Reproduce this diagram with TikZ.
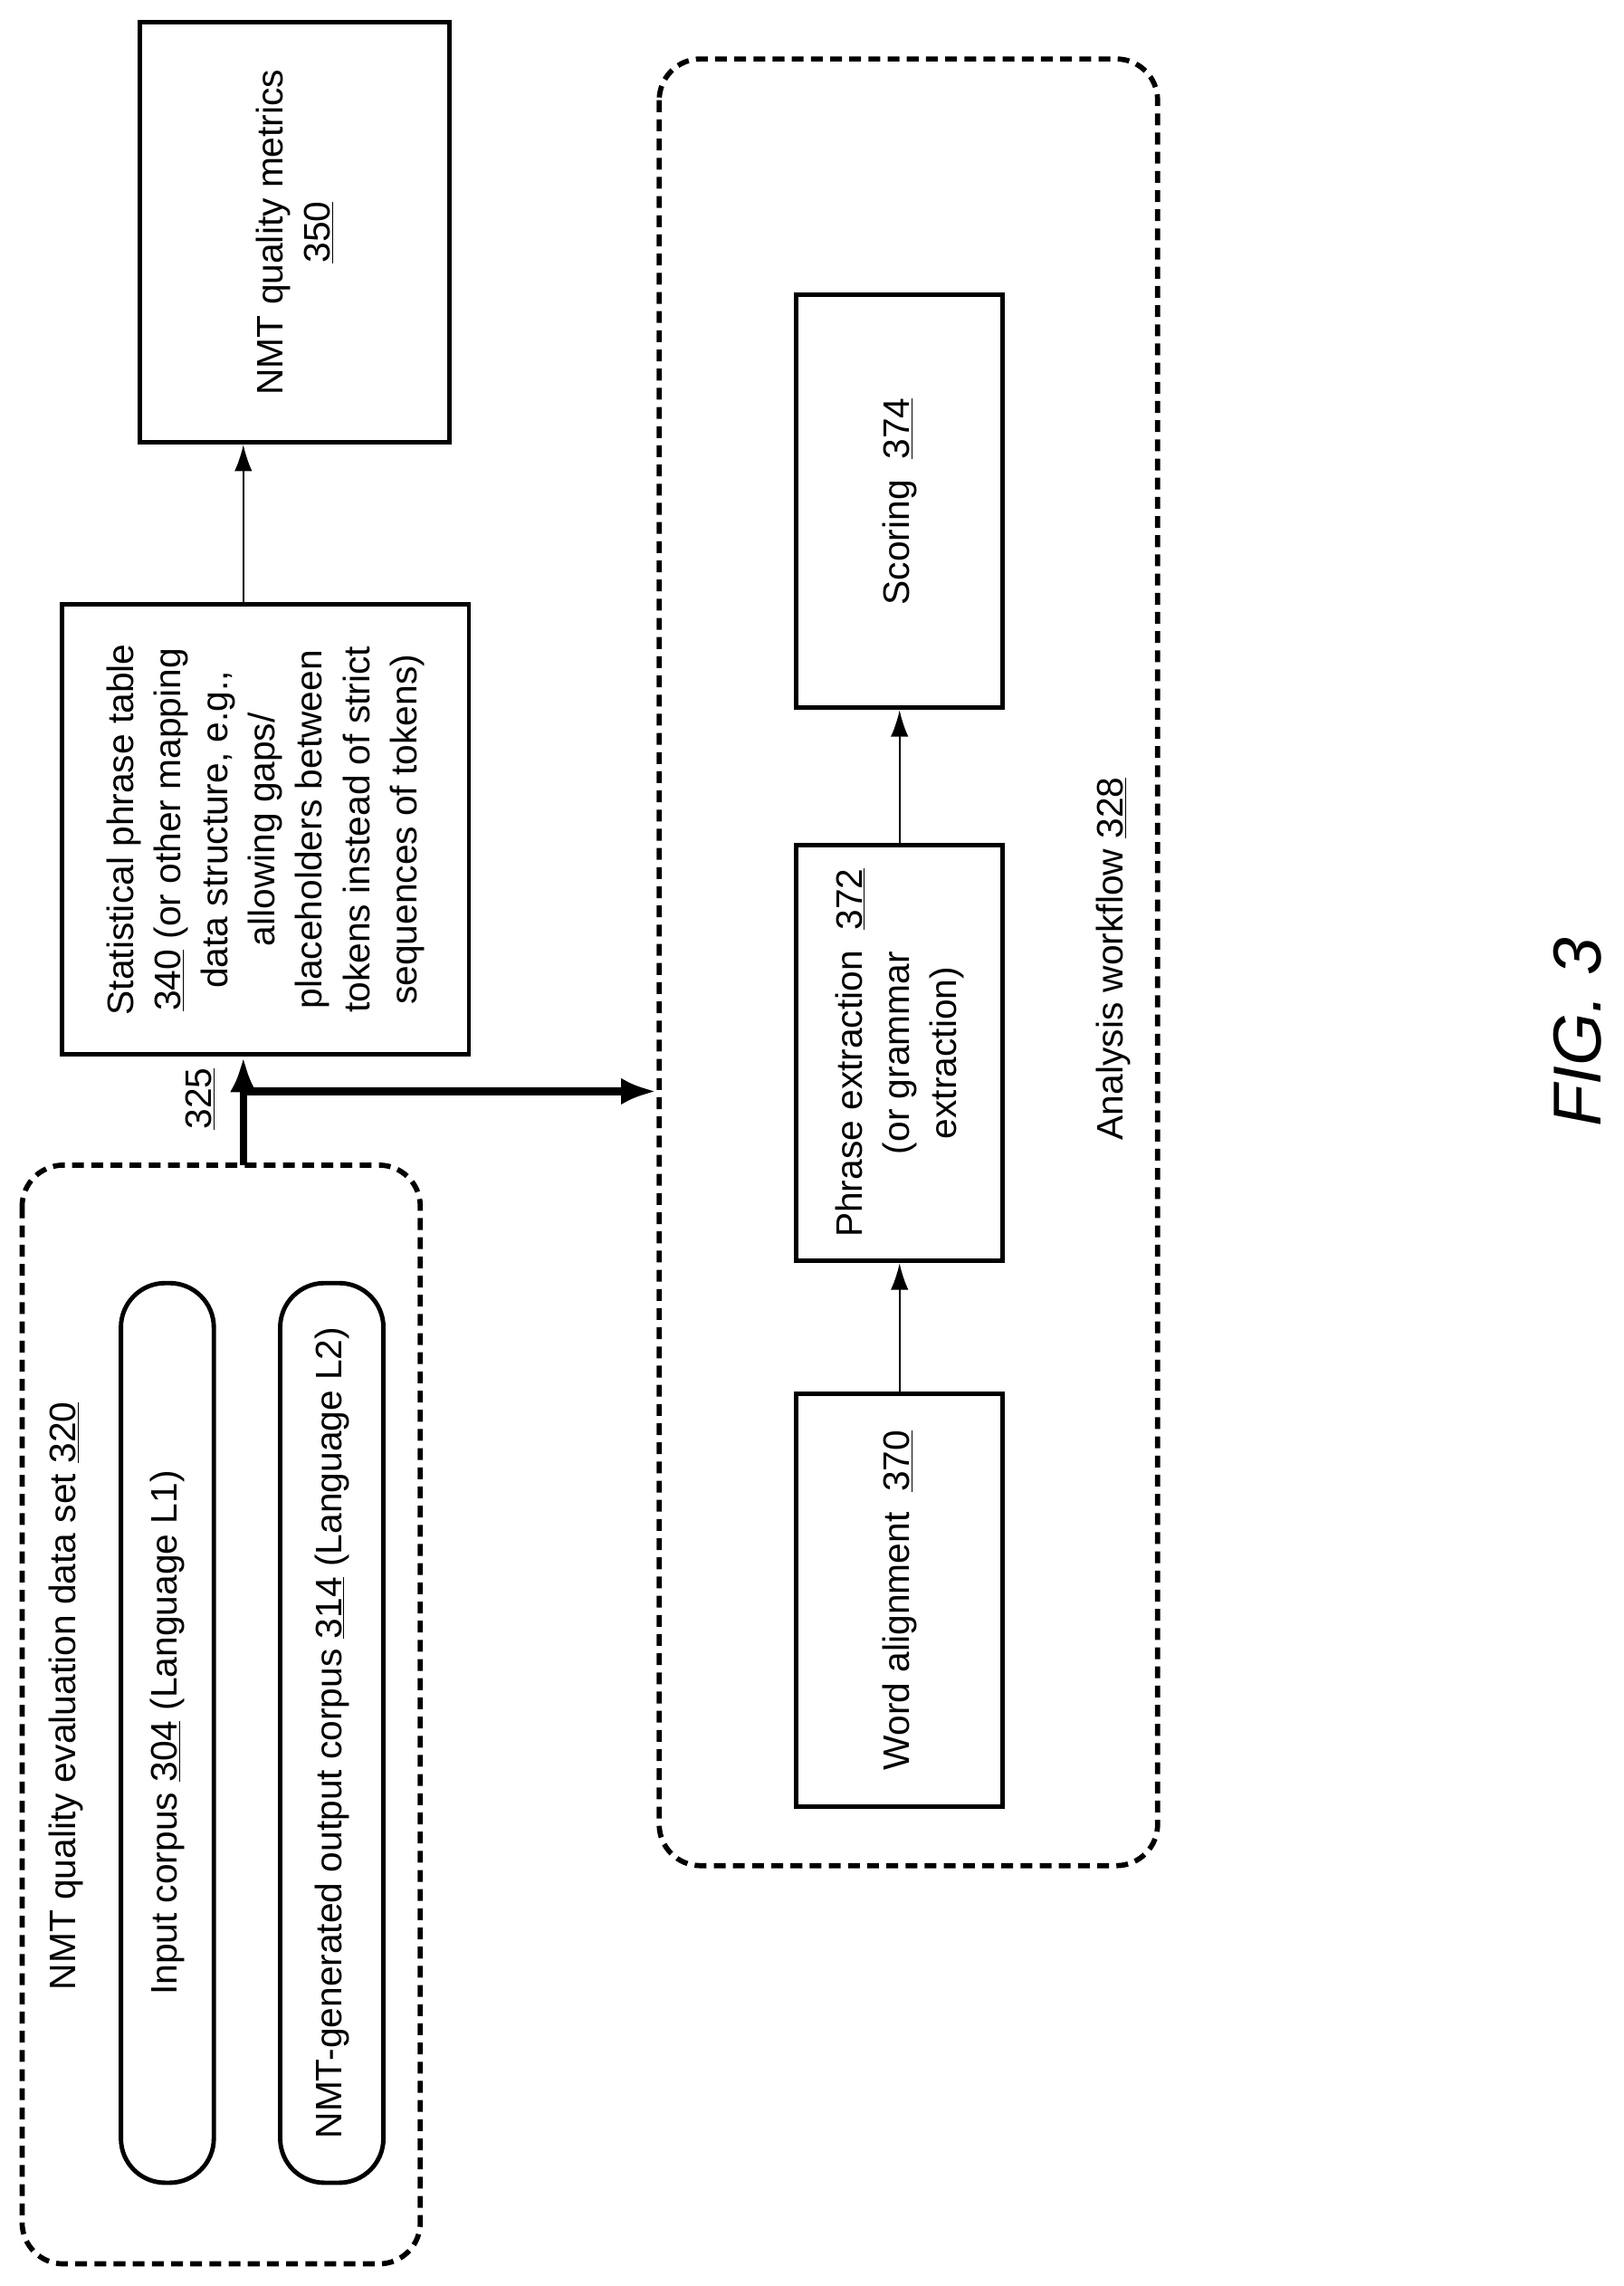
\documentclass[tikz,border=0pt]{standalone}
\usepackage{fontspec}
\setmainfont{Liberation Sans}
\usetikzlibrary{arrows.meta}
\tikzset{
  box/.style={draw,line width=3pt,rotate=90,align=center,inner sep=0pt,font=\fontsize{25}{32}\selectfont},
  grp/.style={draw,line width=3.5pt,dash pattern=on 8pt off 5pt,rounded corners=28pt,rotate=90},
  pill/.style={draw,line width=3pt,rounded corners=30pt,rotate=90,font=\fontsize{25}{32}\selectfont},
  lbl/.style={rotate=90,font=\fontsize{25}{32}\selectfont},
  thin/.style={-{Latex[length=18pt,width=12pt]},line width=1.3pt},
  thick/.style={-{Latex[length=24pt,width=18pt]},line width=5pt}
}
\begin{document}
\begin{tikzpicture}[x=1pt,y=1pt]
\useasboundingbox (0,0) rectangle (1101,1550);
%data set
\node[grp,minimum width=745pt,minimum height=270pt] (g320) at (150,387.5) {};
\node[lbl] (t320) at (45,400) {NMT quality evaluation data set \underline{320}};
\node[pill,minimum width=610pt,minimum height=63pt] (c304) at (113.5,375) {Input corpus \underline{304} (Language L1)};
\node[pill,minimum width=610pt,minimum height=70pt] (c314) at (225,375) {NMT-generated output corpus \underline{314} (Language L2)};
%table and metrics
\node[box,minimum width=305pt,minimum height=276pt] (b340) at (180,987.5) {Statistical phrase table\\\underline{340} (or other mapping\\data structure, e.g.,\\allowing gaps/\\placeholders between\\tokens instead of strict\\sequences of tokens)};
\node[box,minimum width=285pt,minimum height=210pt] (b350) at (200,1392.5) {NMT quality metrics\\\underline{350}};
%workflow
\node[grp,minimum width=1225pt,minimum height=338pt] (g328) at (616,897.5) {};
\node[lbl] (t328) at (755,900) {Analysis workflow \underline{328}};
\node[box,minimum width=280pt,minimum height=140pt] (b370) at (610,465) {Word alignment\ \ \underline{370}};
\node[box,minimum width=282pt,minimum height=140pt] (b372) at (610,836) {Phrase extraction\ \ \underline{372}\\(or grammar\\extraction)};
\node[box,minimum width=280pt,minimum height=140pt] (b374) at (610,1210) {Scoring\ \ \underline{374}};
\node[rotate=90,font=\fontsize{46}{50}\selectfont\itshape] (fig) at (1070,850) {FIG. 3};
%connectors
\coordinate (s325) at (165,760);
\coordinate (j325) at (165,810);
\coordinate (u340) at (165,1140);
\node[lbl] (t325) at (136,805) {\underline{325}};
\draw[thick] (s325) -- (s325 |- b340.west);
\draw[thick] (j325) -- (j325 -| g328.north);
\draw[thin] (u340) -- (u340 |- b350.west);
\draw[thin] (b370) -- (b372);
\draw[thin] (b372) -- (b374);
\end{tikzpicture}
\end{document}
